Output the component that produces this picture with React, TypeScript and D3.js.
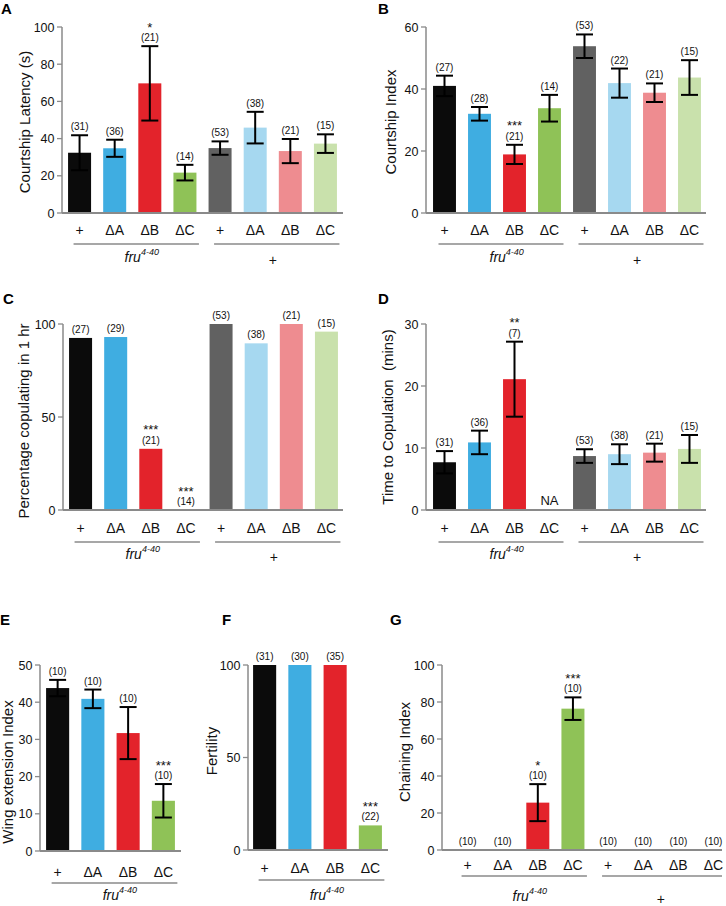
import React from "react";
import * as d3 from "d3";

// ---------- data ----------
const categories8 = ["+", "ΔA", "ΔB", "ΔC", "+", "ΔA", "ΔB", "ΔC"];
const categories4 = ["+", "ΔA", "ΔB", "ΔC"];
const colors8 = ["#0b0b0b", "#3fade1", "#e3232b", "#8fc257", "#616161", "#a6d8f0", "#ee8c90", "#c9e1ac"];
const groupLabels = ["fru", "+"];

// A: Courtship latency (s)
const latencyMean = [32.4, 34.8, 69.7, 21.7, 34.9, 45.9, 33.3, 37.3];
const latencyErr = [9.4, 4.6, 20.0, 4.2, 3.6, 8.5, 6.5, 5.0];
const latencyN = [31, 36, 21, 14, 53, 38, 21, 15];
const latencySig = ["", "", "*", "", "", "", "", ""];
const latencyTicks = [0, 20, 40, 60, 80, 100];

// B: Courtship index
const indexMean = [41.0, 32.0, 18.9, 33.8, 53.8, 41.9, 38.8, 43.7];
const indexErr = [3.3, 2.2, 3.1, 4.3, 3.8, 4.7, 3.0, 5.6];
const indexN = [27, 28, 21, 14, 53, 22, 21, 15];
const indexSig = ["", "", "***", "", "", "", "", ""];
const indexTicks = [0, 20, 40, 60];

// C: Percentage copulating in 1 hr
const copulatingPct = [92.5, 93.0, 32.9, 0, 100, 89.6, 100, 95.9];
const copulatingN = [27, 29, 21, 14, 53, 38, 21, 15];
const copulatingSig = ["", "", "***", "***", "", "", "", ""];
const copulatingTicks = [0, 50, 100];

// D: Time to copulation (mins)
const copTimeMean = [7.7, 10.9, 21.1, null, 8.7, 9.0, 9.25, 9.85];
const copTimeErr = [1.8, 1.9, 6.05, null, 1.1, 1.6, 1.45, 2.25];
const copTimeN = [31, 36, 7, null, 53, 38, 21, 15];
const copTimeSig = ["", "", "**", "", "", "", "", ""];
const copTimeTicks = [0, 10, 20, 30];

// E: Wing extension index
const wingMean = [43.8, 40.9, 31.7, 13.5];
const wingErr = [2.2, 2.5, 7.0, 4.5];
const wingN = [10, 10, 10, 10];
const wingSig = ["", "", "", "***"];
const wingTicks = [0, 10, 20, 30, 40, 50];

// F: Fertility
const fertility = [100, 100, 100, 13.3];
const fertilityN = [31, 30, 35, 22];
const fertilitySig = ["", "", "", "***"];
const fertilityTicks = [0, 50, 100];

// G: Chaining index
const chainingMean = [0, 0, 25.6, 76.4, 0, 0, 0, 0];
const chainingErr = [null, null, 10.0, 6.1, null, null, null, null];
const chainingN = [10, 10, 10, 10, 10, 10, 10, 10];
const chainingSig = ["", "", "*", "***", "", "", "", ""];
const chainingTicks = [0, 20, 40, 60, 80, 100];

const FONT = "'Liberation Sans', Arial, Helvetica, sans-serif";
const AXIS = "#8a8a8a";
const TXT = "#111";

type PanelProps = {
  letter: string; letterX: number; letterY: number;
  axisX: number; top: number; bottom: number; max: number; ticks: number[];
  r0: number; r1: number; baseEnd: number;
  title: string; titleX: number; titleY: number;
  cats: string[]; values: (number | null)[]; errs?: (number | null)[];
  ns: (number | null)[]; sig: string[]; colors: string[];
  labelDy: number; lineDy: number; groupDy: number;
  na?: number;
};

function Panel(p: PanelProps) {
  const idx = p.cats.map((_, i) => i);
  const x = d3.scaleBand<number>().domain(idx).range([p.r0, p.r1]).paddingInner(0.345).paddingOuter(0.1725);
  const y = d3.scaleLinear().domain([0, p.max]).range([p.bottom, p.top]);
  const bw = x.bandwidth();
  const cx = (i: number) => (x(i) as number) + bw / 2;
  const cap = 8.5;
  const groups: number[][] = [];
  for (let g = 0; g * 4 < p.cats.length; g++) groups.push([g * 4, g * 4 + 3]);
  return (
    <g fontFamily={FONT}>
      <text x={p.letterX} y={p.letterY} fontSize={15} fontWeight="bold" fill="#000">{p.letter}</text>
      {/* bars */}
      {idx.map((i) => {
        const v = p.values[i];
        if (v == null || v <= 0) return null;
        return <rect key={"b" + i} x={x(i)} y={y(v)} width={bw} height={y(0) - y(v)} fill={p.colors[i]} />;
      })}
      {/* axes */}
      <line x1={p.axisX} x2={p.axisX} y1={y(p.max)} y2={y(0)} stroke={AXIS} strokeWidth={1.5} />
      <line x1={p.axisX} x2={p.baseEnd} y1={y(0)} y2={y(0)} stroke={AXIS} strokeWidth={1.8} />
      {p.ticks.map((t) => (
        <g key={"t" + t}>
          <line x1={p.axisX - 5} x2={p.axisX} y1={y(t)} y2={y(t)} stroke={AXIS} strokeWidth={1.3} />
          <text x={p.axisX - 7.5} y={y(t)} dy="0.36em" textAnchor="end" fontSize={12.5} fill={TXT}>{t}</text>
        </g>
      ))}
      {/* error bars */}
      {idx.map((i) => {
        const v = p.values[i];
        const e = p.errs ? p.errs[i] : null;
        if (v == null || e == null) return null;
        const c = cx(i);
        return (
          <g key={"e" + i} stroke="#000" strokeWidth={2}>
            <line x1={c} x2={c} y1={y(v + e)} y2={y(v - e)} />
            <line x1={c - cap} x2={c + cap} y1={y(v + e)} y2={y(v + e)} />
            <line x1={c - cap} x2={c + cap} y1={y(v - e)} y2={y(v - e)} />
          </g>
        );
      })}
      {/* n labels and significance */}
      {idx.map((i) => {
        const v = p.values[i];
        const n = p.ns[i];
        if (n == null) return null;
        const e = p.errs ? p.errs[i] : null;
        const topV = v == null ? 0 : v + (e == null ? 0 : e);
        const base = y(topV) - 5;
        const c = cx(i);
        return (
          <g key={"n" + i}>
            {p.sig[i] ? (
              <text x={c} y={base - 9.5} textAnchor="middle" fontSize={13} fill={TXT}>{p.sig[i]}</text>
            ) : null}
            <text x={c} y={base} textAnchor="middle" fontSize={10} fill={TXT}>({n})</text>
          </g>
        );
      })}
      {p.na != null ? (
        <text x={cx(p.na)} y={y(0) - 5} textAnchor="middle" fontSize={13} fill={TXT}>NA</text>
      ) : null}
      {/* category labels */}
      {idx.map((i) => (
        <text key={"c" + i} x={cx(i)} y={y(0) + p.labelDy} textAnchor="middle" fontSize={14} fill={TXT}>{p.cats[i]}</text>
      ))}
      {/* group lines and labels */}
      {groups.map(([a, b], g) => (
        <g key={"g" + g}>
          <line x1={cx(a) - 6} x2={Math.min(cx(b) + 14, p.baseEnd)} y1={y(0) + p.lineDy} y2={y(0) + p.lineDy} stroke={AXIS} strokeWidth={1.5} />
          {g === 0 ? (
            <text x={cx(a) + 45} y={y(0) + p.groupDy} fontSize={14} fill={TXT}>
              <tspan fontStyle="italic">{groupLabels[0]}</tspan>
              <tspan fontSize={9} dy={-7} fontStyle="italic">4-40</tspan>
            </text>
          ) : (
            <text x={(cx(a) + cx(b)) / 2} y={y(0) + p.groupDy + 3} textAnchor="middle" fontSize={14} fill={TXT}>{groupLabels[1]}</text>
          )}
        </g>
      ))}
      {/* y title */}
      <text transform={`translate(${p.titleX},${p.titleY}) rotate(-90)`} textAnchor="middle" fontSize={15} fill={TXT} style={{ whiteSpace: "pre" }}>{p.title}</text>
    </g>
  );
}

export default function App() {
  return (
    <svg width={726} height={906} style={{ position: "absolute", left: 0, top: 0, background: "#fff" }}>
      <rect width={726} height={906} fill="#fff" />
      <Panel letter="A" letterX={1} letterY={14} axisX={62} top={27} bottom={213} max={100} ticks={latencyTicks}
        r0={62} r1={343} baseEnd={343} title="Courtship Latency (s)" titleX={30} titleY={122}
        cats={categories8} values={latencyMean} errs={latencyErr} ns={latencyN} sig={latencySig} colors={colors8}
        labelDy={22} lineDy={31} groupDy={49} />
      <Panel letter="B" letterX={378} letterY={14} axisX={426} top={27} bottom={213} max={60} ticks={indexTicks}
        r0={427} r1={707} baseEnd={706} title="Courtship Index" titleX={396} titleY={122}
        cats={categories8} values={indexMean} errs={indexErr} ns={indexN} sig={indexSig} colors={colors8}
        labelDy={22} lineDy={31} groupDy={49} />
      <Panel letter="C" letterX={3} letterY={304} axisX={63} top={324} bottom={510} max={100} ticks={copulatingTicks}
        r0={63} r1={344} baseEnd={343} title="Percentage copulating in 1 hr" titleX={29} titleY={421}
        cats={categories8} values={copulatingPct} ns={copulatingN} sig={copulatingSig} colors={colors8}
        labelDy={23} lineDy={32} groupDy={49} />
      <Panel letter="D" letterX={378} letterY={304} axisX={426} top={324} bottom={510} max={30} ticks={copTimeTicks}
        r0={427} r1={707} baseEnd={706} title="Time to Copulation  (mins)" titleX={393} titleY={417}
        cats={categories8} values={copTimeMean} errs={copTimeErr} ns={copTimeN} sig={copTimeSig} colors={colors8}
        labelDy={23} lineDy={32} groupDy={49} na={3} />
      <Panel letter="E" letterX={0} letterY={625} axisX={40} top={665} bottom={851} max={50} ticks={wingTicks}
        r0={40} r1={181} baseEnd={181} title="Wing extension Index" titleX={12.5} titleY={772}
        cats={categories4} values={wingMean} errs={wingErr} ns={wingN} sig={wingSig} colors={colors8}
        labelDy={26} lineDy={32} groupDy={49} />
      <Panel letter="F" letterX={222} letterY={625} axisX={248} top={665} bottom={850} max={100} ticks={fertilityTicks}
        r0={247} r1={388} baseEnd={388} title="Fertility" titleX={217} titleY={751}
        cats={categories4} values={fertility} ns={fertilityN} sig={fertilitySig} colors={colors8}
        labelDy={23} lineDy={30} groupDy={50} />
      <Panel letter="G" letterX={390} letterY={625} axisX={442} top={665} bottom={850} max={100} ticks={chainingTicks}
        r0={450} r1={731} baseEnd={722} title="Chaining Index" titleX={410} titleY={752}
        cats={categories8} values={chainingMean} errs={chainingErr} ns={chainingN} sig={chainingSig} colors={colors8}
        labelDy={20} lineDy={26} groupDy={51} />
    </svg>
  );
}
